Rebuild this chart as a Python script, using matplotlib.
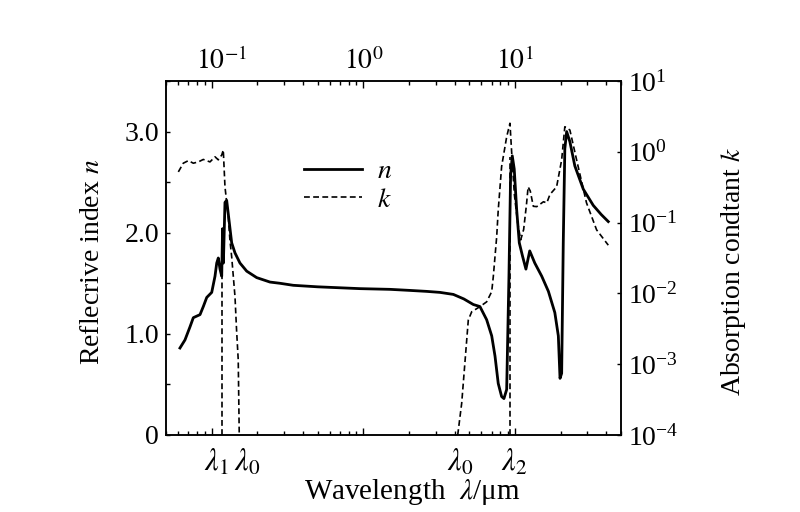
import numpy as np
import matplotlib
matplotlib.use('Agg')
import matplotlib.pyplot as plt
from matplotlib.ticker import FixedLocator, FixedFormatter, MultipleLocator, NullLocator, LogLocator, LogFormatterSciNotation, NullFormatter

plt.rcParams['font.family'] = ['Liberation Serif', 'DejaVu Serif']
plt.rcParams['mathtext.fontset'] = 'stix'

# refractive index n (wavelength in um)
n_wl = [0.0618, 0.0667, 0.0720, 0.0757, 0.0838, 0.0881, 0.0928, 0.1001, 0.1052,
        0.1080, 0.1106, 0.1135, 0.1165, 0.1180, 0.1195, 0.1224, 0.1256, 0.1307,
        0.1355, 0.1425, 0.1537, 0.1702, 0.1981, 0.2425, 0.2821, 0.345, 0.5,
        0.95, 1.5, 2.0, 2.61, 3.2, 3.92, 4.6, 5.31, 5.87, 6.50, 7.02, 7.38,
        7.75, 8.16, 8.45, 8.81, 9.12, 9.35, 9.59, 9.88, 10.25, 10.67, 11.2,
        11.8, 12.5, 13.5, 15.0, 16.6, 18.3, 19.3, 19.8, 20.3, 20.8, 21.3, 21.9,
        23.0, 24.8, 28.2, 32.8, 37.0, 41.2]
n_val = [0.86, 0.94, 1.07, 1.16, 1.19, 1.27, 1.36, 1.41, 1.57,
         1.70, 1.75, 1.64, 1.57, 2.04, 1.70, 2.30, 2.32, 2.10,
         1.90, 1.80, 1.70, 1.62, 1.556, 1.512, 1.50, 1.48, 1.465,
         1.447, 1.44, 1.43, 1.42, 1.41, 1.39, 1.345, 1.29, 1.27, 1.14, 0.98, 0.78,
         0.51, 0.38, 0.36, 0.45, 1.57, 2.56, 2.76, 2.63, 2.23, 1.90, 1.77,
         1.64, 1.82, 1.70, 1.57, 1.42, 1.21, 0.98, 0.56, 0.61, 1.90, 2.83, 3.0,
         2.90, 2.66, 2.43, 2.27, 2.18, 2.11]

# absorption constant k, UV part and IR part
k_uv_wl = [0.0603, 0.0650, 0.0702, 0.0757, 0.0817, 0.0881, 0.0975, 0.1052,
           0.1106, 0.1165, 0.1193, 0.1224, 0.1288, 0.1319, 0.1355, 0.1425,
           0.1460, 0.1497, 0.152]
k_uv = [0.52, 0.69, 0.75, 0.69, 0.72, 0.78, 0.72, 0.85,
        0.77, 0.90, 1.06, 0.32, 0.12, 0.057, 0.033, 0.009,
        0.003, 0.00115, 1e-4]
k_ir_wl = [4.19, 4.45, 4.92, 5.18, 5.87, 6.50, 7.02, 7.19, 7.57, 7.75, 8.16,
           8.81, 9.26, 9.5, 9.9, 10.4, 10.9, 11.4, 11.9, 12.2, 12.6, 13.2,
           13.9, 15.4, 16.2, 17.0, 18.8, 20.3, 21.3, 23.0, 25.5, 29.6, 34.5, 41.2]
k_ir = [1e-4, 2.8e-4, 4.2e-3, 5.5e-3, 6.5e-3, 7.6e-3, 0.0106, 0.0172, 0.063, 0.15, 0.62,
        1.63, 2.53, 1.0, 0.25, 0.1, 0.057, 0.08, 0.18, 0.32, 0.28, 0.17,
        0.168, 0.197, 0.19, 0.25, 0.32, 0.77, 2.26, 2.03, 0.76, 0.19, 0.079, 0.048]

# marker drop lines (wavelength, n at top of line)
mark_wl = [0.117, 9.27]
mark_top = [1.62, 2.75]

# bottom labels
lam_text = [r'$\lambda_1$', r'$\lambda_0$', r'$\lambda_0$', r'$\lambda_2$']
lam_pos = [0.108, 0.171, 4.34, 9.84]

n_ticks = [0, 1, 2, 3]
n_tick_labels = ['0', '1.0', '2.0', '3.0']
k_ticks = [1e-4, 1e-3, 1e-2, 1e-1, 1e0, 1e1]
top_ticks = [0.1, 1, 10]
top_tick_labels = [r'$\quad10^{-1}$', r'$10^{0}$', r'$10^{1}$']

fig = plt.figure(figsize=(8, 5.12), dpi=100)
ax = fig.add_axes([0.2075, 0.1504, 0.5688, 0.6914])
ax2 = ax.twinx()

ax.plot(n_wl, n_val, color='black', lw=2.0, solid_joinstyle='round', label='$n$')
ax2.plot(k_uv_wl, k_uv, color='black', lw=1.2, dashes=(3.5, 2), label='$k$')
ax2.plot(k_ir_wl, k_ir, color='black', lw=1.2, dashes=(3.5, 2))
ax.vlines(mark_wl, 0, mark_top, colors='black', lw=1.2, linestyles=(0, (3.5, 2)))

ax.set_xscale('log')
ax.set_xlim(0.05, 50)
ax.set_ylim(0, 3.5)
ax2.set_yscale('log')
ax2.set_ylim(1e-4, 1e1)

# ticks
ax.xaxis.set_major_locator(FixedLocator(top_ticks))
ax.xaxis.set_major_formatter(FixedFormatter(top_tick_labels))
ax.xaxis.set_minor_locator(LogLocator(base=10, subs=np.arange(2, 10)))
ax.xaxis.set_minor_formatter(NullFormatter())
ax.tick_params(axis='x', which='both', direction='in', top=True, bottom=True,
               labeltop=True, labelbottom=False, labelsize=20, width=1)
ax.tick_params(axis='x', which='major', length=5, pad=4)
ax.tick_params(axis='x', which='minor', length=3)

ax.yaxis.set_major_locator(FixedLocator(n_ticks))
ax.yaxis.set_major_formatter(FixedFormatter(n_tick_labels))
ax.yaxis.set_minor_locator(MultipleLocator(0.5))
ax.tick_params(axis='y', which='both', direction='in', length=3, width=1,
               labelsize=20, pad=5)

ax2.yaxis.set_major_locator(FixedLocator(k_ticks))
ax2.yaxis.set_major_formatter(LogFormatterSciNotation())
ax2.yaxis.set_minor_locator(NullLocator())
ax2.tick_params(axis='y', which='both', direction='in', length=3, width=1,
                labelsize=20, pad=5)

for a in (ax, ax2):
    for s in a.spines.values():
        s.set_linewidth(1.1)

# wavelength marker labels under the axis
for t, x in zip(lam_text, lam_pos):
    ax.text(x, -0.079, t, transform=ax.get_xaxis_transform(), ha='center',
            va='center', fontsize=22)

ax.set_xlabel('Wavelength  $\\lambda$/μm', fontsize=21)
ax.xaxis.set_label_coords(0.54, -0.118)
ax.set_ylabel('Reflecrive index $n$', fontsize=20)
ax.yaxis.set_label_coords(-0.134, 0.489)
ax2.set_ylabel('Absorption condtant $k$', fontsize=20)
ax2.yaxis.set_label_coords(1.216, 0.463)

h1, l1 = ax.get_legend_handles_labels()
h2, l2 = ax2.get_legend_handles_labels()
ax.legend(h1 + h2, l1 + l2, loc='upper left', bbox_to_anchor=(0.303, 0.78),
          frameon=False, fontsize=20, handlelength=2.1, handletextpad=0.55,
          labelspacing=0.12, borderpad=0, borderaxespad=0)

fig.savefig('out.png', dpi=100)
